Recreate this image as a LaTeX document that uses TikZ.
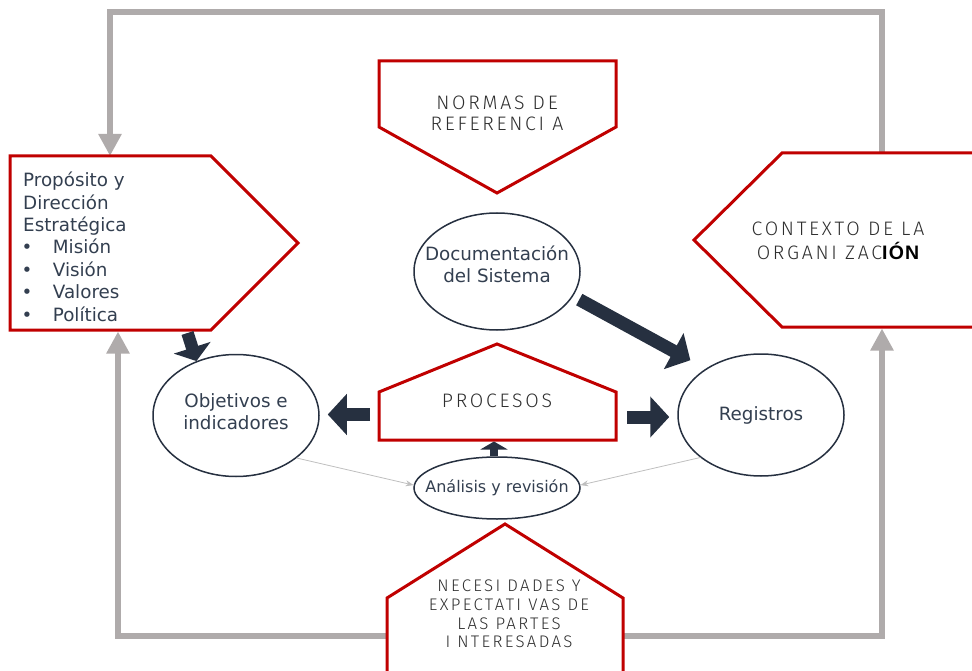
\documentclass[tikz,border=0pt]{standalone}
\usepackage{fontspec}
\setmainfont{DejaVu Sans}
\newfontfamily\capsfont{Fira Sans Light}[LetterSpace=14]
\newfontfamily\capsbold{Liberation Sans Bold}[LetterSpace=6]
\usetikzlibrary{shapes.geometric,arrows.meta}

\definecolor{redline}{HTML}{C00000}
\definecolor{slate}{HTML}{263040}
\definecolor{inktext}{HTML}{333F50}
\definecolor{capsgray}{HTML}{2E2E2E}
\definecolor{loopgray}{HTML}{AFABAB}
\definecolor{thingray}{HTML}{BFBFBF}

\newcommand{\boldpart}[1]{{\capsbold\color{black}#1}}

\begin{document}
\begin{tikzpicture}[x=1pt, y=-1pt,
    redbox/.style={draw=redline, line width=3pt, fill=white},
    oval/.style={ellipse, draw=slate, line width=1.5pt, fill=white, minimum width=166pt, minimum height=122pt, inner sep=0pt},
    inktxt/.style={text=inktext, font=\fontsize{18.3}{21.6}\selectfont, inner sep=0pt},
    caps/.style={text=capsgray, font=\capsfont\fontsize{19.5}{21.7}\selectfont, inner sep=0pt},
    grayloop/.style={draw=loopgray, line width=6.5pt, -{Triangle[length=22pt,width=22pt]}},
    darrow/.style={draw=slate, line width=13pt, -{Triangle[length=19pt,width=40pt]}},
    feedback/.style={draw=thingray, line width=0.8pt, -{Stealth[length=8pt,width=6pt]}}]

    \useasboundingbox (0,0) rectangle (972,671);

    % gray loops round the outside
    \coordinate (ctxT) at (882,153);
    \coordinate (propT) at (110,156);
    \coordinate (propB2) at (118,331.5);
    \coordinate (ctxB) at (882,328.5);
    \coordinate (necL) at (387,636);
    \coordinate (necR) at (623,636);
    \draw[grayloop] (ctxT) -- ++(0,-141) -| (propT);
    \draw[grayloop] (necL) -| (propB2);
    \draw[grayloop] (necR) -| (ctxB);

    % red boxes
    \draw[redbox] (10,156) -- (211,156) -- (298,243) -- (211,330) -- (10,330) -- cycle;
    \draw[redbox] (379,61) -- (616,61) -- (616,127) -- (497,193) -- (379,127) -- cycle;
    \draw[redbox] (1000,153) -- (782,153) -- (694,240) -- (782,327) -- (1000,327) -- cycle;
    \draw[redbox] (379,440) -- (379,392) -- (497,344) -- (616,392) -- (616,440) -- cycle;
    \draw[redbox] (387,700) -- (387,598) -- (505,524) -- (623,598) -- (623,700) -- cycle;

    % ellipses
    \node[oval, minimum height=117pt] (docs) at (497,271.5) {};
    \node[oval] (objetivos) at (236,415.5) {};
    \node[oval, text=inktext, font=\fontsize{18.3}{21.6}\selectfont] (registros) at (761,415) {Registros};
    \node[oval, minimum height=62pt] (analisis) at (497,488) {};

    % texts
    \foreach \t [count=\i] in {Propósito y, Dirección, Estratégica}
        \node[inktxt, anchor=base west] (prop\i) at (23, {164.3+22.4*\i}) {\t};
    \foreach \t [count=\i] in {Misión, Visión, Valores, Política} {
        \node[inktxt, anchor=base west] (dot\i) at (21.5, {231.6+22.4*\i}) {•};
        \node[inktxt, anchor=base west] (item\i) at (52.7, {231.6+22.4*\i}) {\t};
    }
    \foreach \t [count=\i] in {Documentación, del Sistema}
        \node[inktxt, anchor=base] (docs\i) at (497, {239.1+21.6*\i}) {\t};
    \foreach \t [count=\i] in {Objetivos e, indicadores}
        \node[inktxt, anchor=base] (objetivos\i) at (236, {385.6+21.7*\i}) {\t};
    \node[inktxt, anchor=base, font=\fontsize{16}{19}\selectfont] (analisis1) at (497,492.3) {Análisis y revisión};

    \foreach \t [count=\i] in {NORMAS DE, REFERENCI A}
        \node[caps, anchor=base] (normas\i) at (497, {87.6+21.7*\i}) {\t};
    \foreach \t [count=\i] in {CONTEXTO DE LA, {ORGANI ZAC\boldpart{IÓN}}}
        \node[caps, anchor=base] (contexto\i) at (838, {213+23*\i}) {\t};
    \node[caps, anchor=base] (procesos) at (497,407.3) {PROCESOS};
    \foreach \t [count=\i] in {NECESI DADES Y, EXPECTATI VAS DE, LAS PARTES, I NTERESADAS}
        \node[caps, anchor=base, font=\capsfont\fontsize{16.8}{18.7}\selectfont] (necesidades\i) at (509, {573+18.67*\i}) {\t};

    % dark arrows
    \coordinate (propB) at (187.5,333);
    \coordinate (procL) at (370,414.5);
    \coordinate (procR) at (627,417);
    \coordinate (procB) at (494,441.5);
    \draw[darrow, line width=12.5pt, -{Triangle[length=14pt,width=38pt]}] (propB) -- (objetivos.126);
    \draw[darrow, shorten <=7pt, shorten >=17.5pt] (docs.-18) -- (registros.140);
    \draw[darrow, shorten >=8pt] (procL) -- (procL -| objetivos.east);
    \draw[darrow, shorten >=8pt] (procR) -- (procR -| registros.west);
    \draw[darrow, line width=8pt, -{Triangle[length=8pt,width=27pt]}] (procB |- analisis.north) -- (procB);

    % thin feedback lines
    \draw[feedback] (objetivos.-35) -- (analisis.178);
    \draw[feedback] (registros.215) -- (analisis.2);

\end{tikzpicture}
\end{document}
